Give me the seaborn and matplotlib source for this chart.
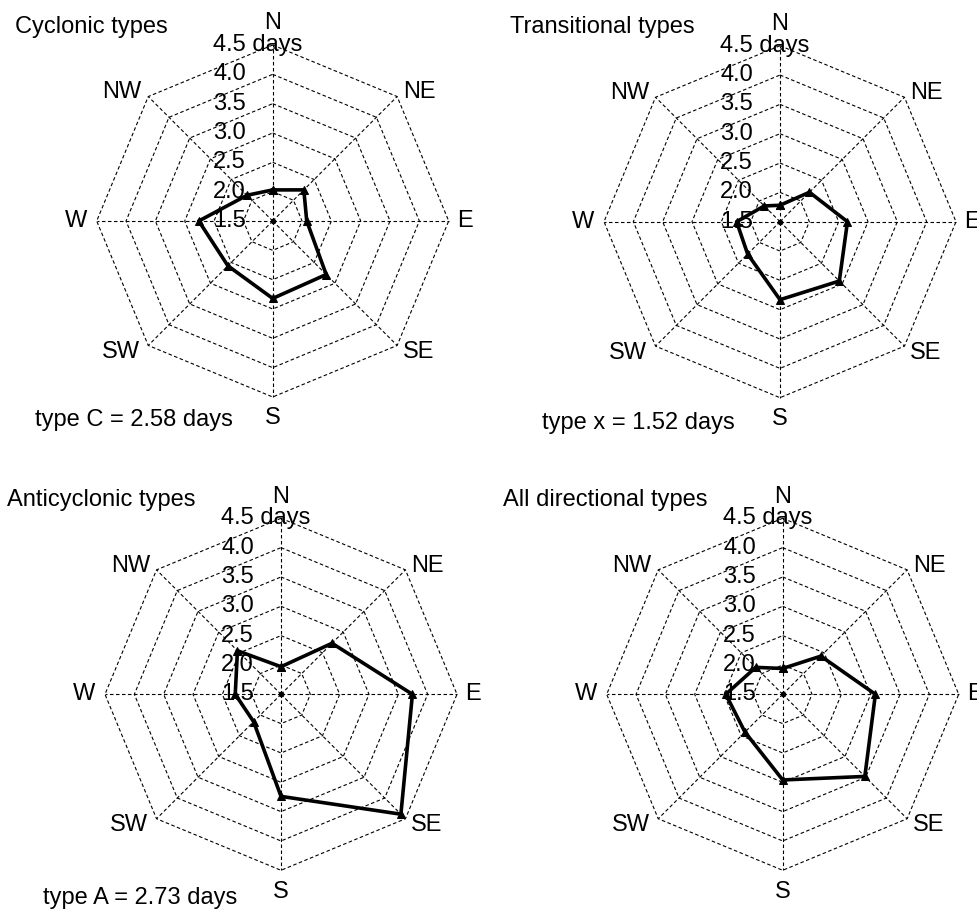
import numpy as np
import pandas as pd
import matplotlib
matplotlib.use("Agg")
import matplotlib.pyplot as plt
import seaborn as sns

# ---------------- data ----------------
directions = ["N", "NE", "E", "SE", "S", "SW", "W", "NW"]
cyclonic = [2.03, 2.25, 2.08, 2.79, 2.82, 2.58, 2.76, 2.12]
transitional = [1.78, 2.21, 2.65, 2.93, 2.83, 2.28, 2.24, 1.88]
anticyclonic = [1.97, 2.73, 3.74, 4.39, 3.24, 2.16, 2.28, 2.55]
all_directional = [1.94, 2.42, 3.08, 3.48, 2.96, 2.41, 2.47, 2.15]
ring_ticks = [1.5, 2.0, 2.5, 3.0, 3.5, 4.0, 4.5]
ring_labels = ["1.5", "2.0", "2.5", "3.0", "3.5", "4.0", "4.5 days"]
titles = ["Cyclonic types", "Transitional types", "Anticyclonic types", "All directional types"]
notes = ["type C = 2.58 days", "type x = 1.52 days", "type A = 2.73 days", ""]
series = [cyclonic, transitional, anticyclonic, all_directional]

# ---------------- style ----------------
sns.set_theme(style="white")
plt.rcParams["font.family"] = ["Liberation Sans", "DejaVu Sans"]
plt.rcParams["text.color"] = "black"

W, H = 977, 911
fig = plt.figure(figsize=(W / 100, H / 100), dpi=100)
fig.patch.set_facecolor("white")

R_PX = 176.0                       # outer ring radius in pixels
rmin, rmax = ring_ticks[0], ring_ticks[-1]
span = rmax - rmin
U = span / R_PX                    # data units per pixel
FS = 17

# panel layout: centre (px), title pos (px), note pos (px)
layout = [
    dict(c=(272.7, 221.0), title=(15, 27), note=(35, 420)),
    dict(c=(780.0, 221.7), title=(510, 27), note=(542, 423)),
    dict(c=(281.0, 694.3), title=(7, 500), note=(43, 898)),
    dict(c=(782.7, 694.3), title=(503, 500), note=None),
]

angles = np.deg2rad(np.arange(len(directions)) * 360.0 / len(directions))
grid_kw = dict(color="black", lw=0.8, ls=(0, (3.2, 2.2)), zorder=2)

for k in range(4):
    cx, cy = layout[k]["c"]
    ax = fig.add_axes([(cx - R_PX) / W, 1 - (cy + R_PX) / H, 2 * R_PX / W, 2 * R_PX / H])
    ax.set_xlim(-span, span)
    ax.set_ylim(-span, span)
    ax.set_aspect("equal")
    ax.axis("off")
    ax.patch.set_alpha(0)

    # octagonal rings
    for v in ring_ticks[1:]:
        r = v - rmin
        xs = np.append(r * np.sin(angles), r * np.sin(angles[0]))
        ys = np.append(r * np.cos(angles), r * np.cos(angles[0]))
        ax.plot(xs, ys, clip_on=False, **grid_kw)
    # spokes
    for a in angles:
        ax.plot([0, span * np.sin(a)], [0, span * np.cos(a)], clip_on=False, **grid_kw)
    ax.plot([0], [0], marker="o", ms=3, color="black", zorder=2)

    # ring labels
    for v, lab in zip(ring_ticks, ring_labels):
        ax.text(-59.7 * U, v - rmin, lab, ha="left", va="center", fontsize=FS,
                color="black", zorder=1)

    # direction labels
    d = 197.5 * U
    ax.text(0, d, "N", ha="center", va="center", fontsize=FS)
    ax.text(0, -d, "S", ha="center", va="center", fontsize=FS)
    ax.text(184 * U, 0, "E", ha="left", va="center", fontsize=FS)
    ax.text(-186 * U, 0, "W", ha="right", va="center", fontsize=FS)
    ax.text(130 * U, 128.5 * U, "NE", ha="left", va="center", fontsize=FS)
    ax.text(-131 * U, 128.5 * U, "NW", ha="right", va="center", fontsize=FS)
    ax.text(130 * U, -131 * U, "SE", ha="left", va="center", fontsize=FS)
    ax.text(-133 * U, -131 * U, "SW", ha="right", va="center", fontsize=FS)

    # data polygon
    vals = np.array(series[k]) - rmin
    df = pd.DataFrame({
        "x": np.append(vals * np.sin(angles), vals[0] * np.sin(angles[0])),
        "y": np.append(vals * np.cos(angles), vals[0] * np.cos(angles[0])),
    })
    sns.lineplot(data=df, x="x", y="y", sort=False, estimator=None, ax=ax,
                 color="black", linewidth=2.6, marker="^", markersize=6,
                 markeredgecolor="black", markerfacecolor="black", zorder=5)
    ax.set_xlim(-span, span)
    ax.set_ylim(-span, span)
    ax.axis("off")

    tx, ty = layout[k]["title"]
    fig.text(tx / W, 1 - ty / H, titles[k], ha="left", va="center", fontsize=FS)
    if layout[k]["note"] is not None:
        nx, ny = layout[k]["note"]
        fig.text(nx / W, 1 - ny / H, notes[k], ha="left", va="center", fontsize=FS)

fig.savefig("out.png", dpi=100, facecolor="white")
